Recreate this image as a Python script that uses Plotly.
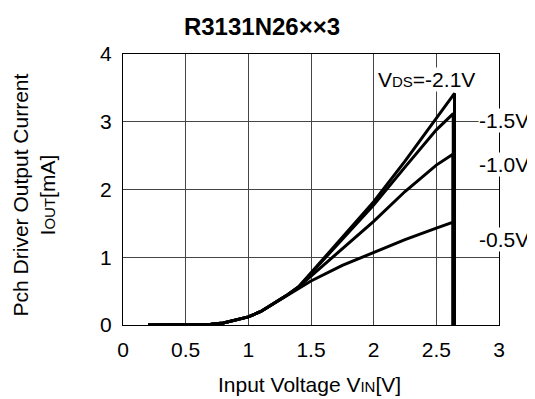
import plotly.graph_objects as go

# Input voltage (V) and output current (mA) per VDS curve
vin_21 = [0.2, 0.4, 0.6, 0.7, 0.8, 0.9, 1.0, 1.1, 1.2, 1.3, 1.4, 1.5, 1.75, 2.0, 2.25, 2.5, 2.645, 2.645]
iout_21 = [0, 0, 0, 0.01, 0.03, 0.07, 0.12, 0.2, 0.31, 0.43, 0.56, 0.77, 1.28, 1.82, 2.42, 3.05, 3.42, 0]

vin_15 = [0.2, 0.4, 0.6, 0.7, 0.8, 0.9, 1.0, 1.1, 1.2, 1.3, 1.4, 1.5, 1.75, 2.0, 2.25, 2.5, 2.635, 2.635]
iout_15 = [0, 0, 0, 0.01, 0.03, 0.07, 0.12, 0.2, 0.31, 0.43, 0.56, 0.76, 1.26, 1.77, 2.33, 2.88, 3.12, 0]

vin_10 = [0.2, 0.4, 0.6, 0.7, 0.8, 0.9, 1.0, 1.1, 1.2, 1.3, 1.4, 1.5, 1.75, 2.0, 2.25, 2.5, 2.632, 2.632]
iout_10 = [0, 0, 0, 0.01, 0.03, 0.07, 0.12, 0.2, 0.31, 0.43, 0.56, 0.72, 1.12, 1.53, 1.97, 2.36, 2.52, 0]

vin_05 = [0.2, 0.4, 0.6, 0.7, 0.8, 0.9, 1.0, 1.1, 1.2, 1.3, 1.4, 1.5, 1.75, 2.0, 2.25, 2.5, 2.635, 2.635]
iout_05 = [0, 0, 0, 0.01, 0.03, 0.07, 0.12, 0.2, 0.31, 0.43, 0.54, 0.65, 0.88, 1.07, 1.26, 1.43, 1.52, 0]

series = [
    (vin_21, iout_21),
    (vin_15, iout_15),
    (vin_10, iout_10),
    (vin_05, iout_05),
]

labels = ["-1.5V", "-1.0V", "-0.5V"]
label_y = [3.02, 2.37, 1.26]

FONT = "Liberation Sans, Arial, Helvetica, sans-serif"

# page body has an 8px margin, so the figure is made 8px smaller and shifted
W, H = 527, 391

fig = go.Figure()
for xs, ys in series:
    fig.add_trace(go.Scatter(x=xs, y=ys, mode="lines",
                             line=dict(color="black", width=3),
                             showlegend=False, hoverinfo="skip"))

fig.add_annotation(x=2.03, y=3.62, xref="x", yref="y", xanchor="left", yanchor="middle",
                   text="V<span style='font-size:15px'>DS</span>=-2.1V",
                   showarrow=False, bgcolor="white", borderpad=0,
                   font=dict(size=21, color="black", family=FONT))
for t, yv in zip(labels, label_y):
    fig.add_annotation(x=2.83, y=yv, xref="x", yref="y", xanchor="left", yanchor="middle",
                       text=t, showarrow=False, bgcolor="white", borderpad=0,
                       font=dict(size=21, color="black", family=FONT))

# axis titles
fig.add_annotation(x=-0.238, y=0.48, xref="paper", yref="paper", xanchor="center", yanchor="middle",
                   textangle=-90, showarrow=False,
                   text="Pch Driver Output Current<br>I<span style='font-size:15px'>OUT</span>[mA]",
                   font=dict(size=21, color="black", family=FONT))
fig.add_annotation(x=0.495, y=-0.221, xref="paper", yref="paper", xanchor="center", yanchor="middle",
                   showarrow=False,
                   text="Input Voltage V<span style='font-size:15px'>IN</span>[V]",
                   font=dict(size=21, color="black", family=FONT))

fig.update_layout(
    width=W, height=H,
    margin=dict(l=115, r=36, t=46, b=74),
    paper_bgcolor="white", plot_bgcolor="white",
    title=dict(text="<b>R3131N26××3</b>", x=254 / W, xanchor="center", xref="container",
               y=1 - 19 / H, yanchor="middle", yref="container",
               font=dict(size=24, color="black", family=FONT)),
    font=dict(family=FONT, size=21, color="black"),
)
fig.update_xaxes(range=[0, 3], dtick=0.5, tick0=0, showgrid=True, gridcolor="#444", gridwidth=1,
                 showline=True, linecolor="black", linewidth=1, mirror=True, zeroline=False,
                 ticks="outside", ticklen=6, tickcolor="rgba(0,0,0,0)",
                 tickfont=dict(size=21, color="black", family=FONT))
fig.update_yaxes(range=[0, 4], dtick=1, tick0=0, showgrid=True, gridcolor="#444", gridwidth=1,
                 showline=True, linecolor="black", linewidth=1, mirror=True, zeroline=False,
                 ticks="outside", ticklen=6, tickcolor="rgba(0,0,0,0)",
                 tickfont=dict(size=21, color="black", family=FONT))

fig.write_html("out.html")
